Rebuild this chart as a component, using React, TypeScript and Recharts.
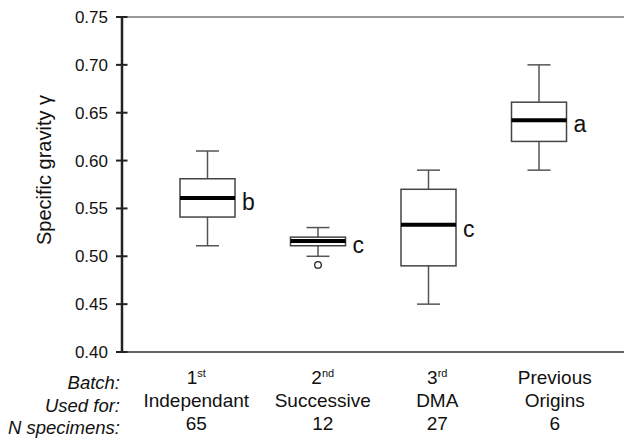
import { ComposedChart, Bar, XAxis, YAxis, ReferenceLine } from "recharts";

const BATCH = ["1", "2", "3", "Previous"];
const BATCH_SUFFIX = ["st", "nd", "rd", ""];
const USED_FOR = ["Independant", "Successive", "DMA", "Origins"];
const N_SPECIMENS = [65, 12, 27, 6];
const ROW_LABELS = ["Batch:", "Used for:", "N specimens:"];

const WHISKER_LOW = [0.511, 0.5, 0.45, 0.59];
const Q1 = [0.541, 0.511, 0.49, 0.62];
const MEDIAN = [0.561, 0.516, 0.533, 0.642];
const Q3 = [0.581, 0.52, 0.57, 0.661];
const WHISKER_HIGH = [0.61, 0.53, 0.59, 0.7];
const OUTLIERS = [[], [0.491], [], []];
const GROUP_LETTERS = ["b", "c", "c", "a"];

const Y_TICKS = [0.4, 0.45, 0.5, 0.55, 0.6, 0.65, 0.7, 0.75];

// label text in the original sits a bit off the box centres
const LABEL_SHIFT = [-11, 5, 9, 16];

const FONT = "'Liberation Sans', Arial, Helvetica, sans-serif";

const data = BATCH.map((b, i) => ({
  name: b + BATCH_SUFFIX[i],
  low: WHISKER_LOW[i],
  q1: Q1[i],
  median: MEDIAN[i],
  q3: Q3[i],
  high: WHISKER_HIGH[i],
  outliers: OUTLIERS[i],
  letter: GROUP_LETTERS[i],
}));

function BoxShape(props: any) {
  const { x, y, width, height, payload } = props;
  const { low, q1, median, q3, high, outliers, letter } = payload;
  const k = height / (high - low);
  const toY = (v: number) => y + (high - v) * k;
  const cx = x + width / 2;
  const cap = 11.5;
  return (
    <g>
      <line x1={cx} x2={cx} y1={toY(high)} y2={toY(q3)} stroke="#555" strokeWidth={1.5} />
      <line x1={cx} x2={cx} y1={toY(q1)} y2={toY(low)} stroke="#555" strokeWidth={1.5} />
      <line x1={cx - cap} x2={cx + cap} y1={toY(high)} y2={toY(high)} stroke="#555" strokeWidth={1.5} />
      <line x1={cx - cap} x2={cx + cap} y1={toY(low)} y2={toY(low)} stroke="#555" strokeWidth={1.5} />
      <rect
        x={x}
        y={toY(q3)}
        width={width}
        height={toY(q1) - toY(q3)}
        fill="#fff"
        stroke="#444"
        strokeWidth={1.5}
      />
      <line x1={x} x2={x + width} y1={toY(median)} y2={toY(median)} stroke="#000" strokeWidth={4} />
      {outliers.map((o: number, j: number) => (
        <circle key={j} cx={cx} cy={toY(o)} r={3.3} fill="#fff" stroke="#222" strokeWidth={1.3} />
      ))}
      <text x={x + width + 7} y={toY(median) + 12} fontSize={23} fontFamily={FONT} fill="#111">
        {letter}
      </text>
    </g>
  );
}

function CategoryTick(props: any) {
  const { x, y, index } = props;
  const cx = x + LABEL_SHIFT[index];
  return (
    <g fontFamily={FONT} fill="#111">
      <text x={cx} y={y + 32} textAnchor="middle" fontSize={19}>
        {BATCH[index]}
        {BATCH_SUFFIX[index] && (
          <tspan fontSize={11} dy={-7}>
            {BATCH_SUFFIX[index]}
          </tspan>
        )}
      </text>
      <text x={cx} y={y + 55} textAnchor="middle" fontSize={19}>
        {USED_FOR[index]}
      </text>
      <text x={cx} y={y + 77.5} textAnchor="middle" fontSize={19}>
        {N_SPECIMENS[index]}
      </text>
    </g>
  );
}

function ValueTick(props: any) {
  const { x, y, payload } = props;
  return (
    <g>
      <line x1={x - 6} x2={x + 5.5} y1={y} y2={y} stroke="#222" strokeWidth={2} />
      <text x={x - 14} y={y + 6} textAnchor="end" fontSize={17} fontFamily={FONT} fill="#111">
        {payload.value.toFixed(2)}
      </text>
    </g>
  );
}

function RowLabels(props: any) {
  const { viewBox } = props;
  const rx = viewBox.x - 2;
  const offs = [37, 59.5, 82];
  return (
    <g fontFamily={FONT} fontStyle="italic" fontSize={18.5} fill="#111">
      {ROW_LABELS.map((t, i) => (
        <text key={t} x={rx} y={viewBox.y + offs[i]} textAnchor="end">
          {t}
        </text>
      ))}
    </g>
  );
}

function YTitle(props: any) {
  const { viewBox } = props;
  const tx = viewBox.x + 51;
  const ty = viewBox.y + 153;
  return (
    <text
      x={tx}
      y={ty}
      transform={`rotate(-90 ${tx} ${ty})`}
      textAnchor="middle"
      fontSize={20}
      fontFamily={FONT}
      fill="#111"
    >
      Specific gravity γ
    </text>
  );
}

export default function App() {
  return (
    <div style={{ position: "absolute", left: 0, top: 0, background: "#fff" }}>
      <ComposedChart
        width={624}
        height={440}
        data={data}
        margin={{ top: 17, right: 0, left: 0, bottom: 0 }}
      >
        <XAxis
          dataKey="name"
          height={88}
          padding={{ left: 30, right: 30 }}
          axisLine={{ stroke: "#333", strokeWidth: 1.5 }}
          tickLine={false}
          tickSize={0}
          tickMargin={0}
          interval={0}
          tick={<CategoryTick />}
          label={RowLabels}
        />
        <YAxis
          type="number"
          domain={[0.4, 0.75]}
          ticks={Y_TICKS}
          width={122}
          axisLine={{ stroke: "#222", strokeWidth: 2.5 }}
          tickLine={false}
          tickSize={0}
          tickMargin={0}
          tick={<ValueTick />}
          label={YTitle}
        />
        <ReferenceLine y={0.75} stroke="#333" strokeWidth={1.2} />
        <Bar
          dataKey={(d: any) => [d.low, d.high]}
          barSize={55}
          shape={<BoxShape />}
          isAnimationActive={false}
        />
      </ComposedChart>
    </div>
  );
}
